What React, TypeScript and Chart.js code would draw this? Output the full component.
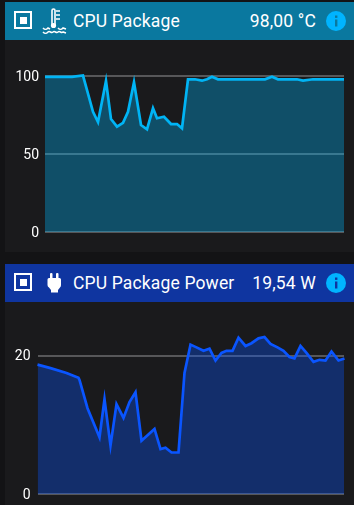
import React, { useEffect, useRef } from "react";
import { Chart, registerables } from "chart.js";

Chart.register(...registerables);

const tempTitle = "CPU Package";
const tempReading = "98,00 °C";
const powerTitle = "CPU Package Power";
const powerReading = "19,54 W";

const tempTicks = [0, 50, 100];
const powerTicks = [0, 20];

const tempTimes = [0, 27, 38, 48, 53, 61, 66, 72, 78, 83, 89, 96, 102, 108, 112, 119, 126, 132, 137, 143, 150, 157, 162, 167, 173, 208, 220, 227, 233, 252, 258, 268, 299];
const tempValues = [99.5, 99.5, 100.3, 77, 70.5, 96.8, 72.4, 67.5, 70, 77, 96, 68.6, 65.8, 79.3, 72.9, 73.9, 69.2, 69.2, 66.5, 97.9, 97.9, 97, 97.9, 99.5, 97.9, 97.9, 97.9, 99.5, 97.9, 97.9, 97, 97.9, 97.9];

const powerTimes = [0, 13, 29, 41, 42, 50, 62, 67, 73, 79, 86, 92, 98, 104, 117, 123, 128, 134, 141, 147, 153, 159, 166, 172, 178, 184, 189, 195, 201, 208, 214, 221, 227, 233, 240, 246, 252, 257, 263, 269, 276, 282, 288, 294, 301, 307];
const powerValues = [18.7, 18.2, 17.5, 16.8, 16.5, 12.4, 8.2, 13.7, 7, 13, 11, 13.3, 14.7, 7.7, 9.4, 6.5, 6.7, 6, 6, 17.5, 21.6, 21.2, 20.7, 21, 19.3, 20.4, 20.7, 20.7, 22.6, 21.4, 21.8, 22.5, 22.7, 21.7, 21.2, 20.7, 19.8, 19.6, 21.4, 20.4, 19.1, 19.4, 19.3, 20.6, 19.3, 19.6];

type PanelProps = {
  top: number; height: number; left: number; plotTop: number; plotBottom: number; tickGap: number;
  times: number[]; values: number[]; ticks: number[]; yMax: number; color: string;
};

function Panel({ top, height, left, plotTop, plotBottom, tickGap, times, values, ticks, yMax, color }: PanelProps) {
  const ref = useRef<HTMLCanvasElement>(null);
  useEffect(() => {
    const chart = new Chart(ref.current!, {
      type: "line",
      data: {
        datasets: [{
          data: times.map((x, i) => ({ x, y: values[i] })),
          borderColor: color,
          borderWidth: 2.7,
          backgroundColor: color + "59",
          fill: "origin",
          pointRadius: 0,
          tension: 0,
          clip: false,
        }],
      },
      options: {
        animation: false,
        responsive: false,
        parsing: false,
        layout: { padding: { top: plotTop, bottom: plotBottom, right: 10, left: 0 } },
        plugins: { legend: { display: false }, tooltip: { enabled: false } },
        scales: {
          x: { type: "linear", display: false, min: 0, max: 344 - left },
          y: {
            min: 0,
            max: yMax,
            border: { display: false },
            grid: { color: "rgba(255,255,255,0.27)", lineWidth: 2, drawTicks: false },
            afterBuildTicks: (s: any) => { s.ticks = ticks.map((value) => ({ value })); },
            afterFit: (s: any) => { s.width = left; s.paddingTop = 0; s.paddingBottom = 0; },
            ticks: { color: "#ffffff", padding: tickGap, labelOffset: 1, font: { family: "Roboto", size: 14 } },
          },
        },
      },
    } as any);
    return () => chart.destroy();
  }, []);
  return <canvas ref={ref} width={354} height={height} style={{ position: "absolute", left: 0, top, width: 354, height }} />;
}

function Header({ top, bg, title, reading, icon }: { top: number; bg: string; title: string; reading: string; icon: React.ReactNode }) {
  return (
    <div style={{ position: "absolute", left: 5, top, width: 349, height: 38, background: bg, color: "#fff", fontFamily: "Roboto", fontSize: 17.5, letterSpacing: 0.15 }}>
      <svg width={349} height={38} style={{ position: "absolute", left: 0, top: 0 }}>
        <rect x={10} y={10} width={16} height={16} fill="none" stroke="#fff" strokeWidth={2} />
        <rect x={15} y={15} width={7} height={7} fill="#fff" />
        {icon}
        <circle cx={331} cy={19} r={10} fill="#00b4ff" />
        <rect x={330} y={17.5} width={2.4} height={7} fill={bg} />
        <rect x={330} y={13.5} width={2.4} height={2.4} fill={bg} />
      </svg>
      <span style={{ position: "absolute", left: 68, top: 9, lineHeight: "20px", whiteSpace: "nowrap" }}>{title}</span>
      <span style={{ position: "absolute", right: 38, top: 9, lineHeight: "20px", whiteSpace: "nowrap" }}>{reading}</span>
    </div>
  );
}

const thermo = (
  <g fill="none" stroke="#fff" strokeWidth={1.6}>
    <path d="M47 23V8.5c0-2 3-2 3 0V23" />
    <circle cx={48.5} cy={23.5} r={2.6} fill="#fff" stroke="none" />
    <path d="M51 9h4M51 13h4M51 17h4" />
    <path d="M38 26c2 2 3 2 5 0l2 1M53 26c2 2 3 2 5 0l3 1" />
    <path d="M38 30c2 2 3 2 5 0s3 2 5 0 3 2 5 0 3 2 5 0l3 1" />
  </g>
);

const plug = (
  <g fill="#fff">
    <rect x={45} y={9} width={2.5} height={6} rx={1} />
    <rect x={51} y={9} width={2.5} height={6} rx={1} />
    <path d="M44.5 14h10q1.500 0 1.500 1.500V21q0 1.500-1 2.500l-2 2.500v2.500h-7V26l-2-2.500q-1.500-1-1.500-2.500v-5.500q0-1.500 1.500-1.500z" />
  </g>
);

export default function App() {
  return (
    <div style={{ position: "absolute", left: 0, top: 0, width: 354, height: 505, overflow: "hidden", background: "#131315" }}>
      <div style={{ position: "absolute", left: 5, top: 2, width: 349, height: 250, background: "#1a1a1c" }} />
      <div style={{ position: "absolute", left: 5, top: 264, width: 349, height: 241, background: "#1a1a1c" }} />
      <Header top={2} bg="#0a789f" title={tempTitle} reading={tempReading} icon={thermo} />
      <Header top={264} bg="#0f35a0" title={powerTitle} reading={powerReading} icon={plug} />
      <Panel top={40} height={224} left={45} plotTop={36} plotBottom={32} tickGap={6} times={tempTimes} values={tempValues} ticks={tempTicks} yMax={100} color="#00b4f5" />
      <Panel top={302} height={203} left={37.5} plotTop={26} plotBottom={11} tickGap={7} times={powerTimes} values={powerValues} ticks={powerTicks} yMax={24} color="#0a55ff" />
    </div>
  );
}
